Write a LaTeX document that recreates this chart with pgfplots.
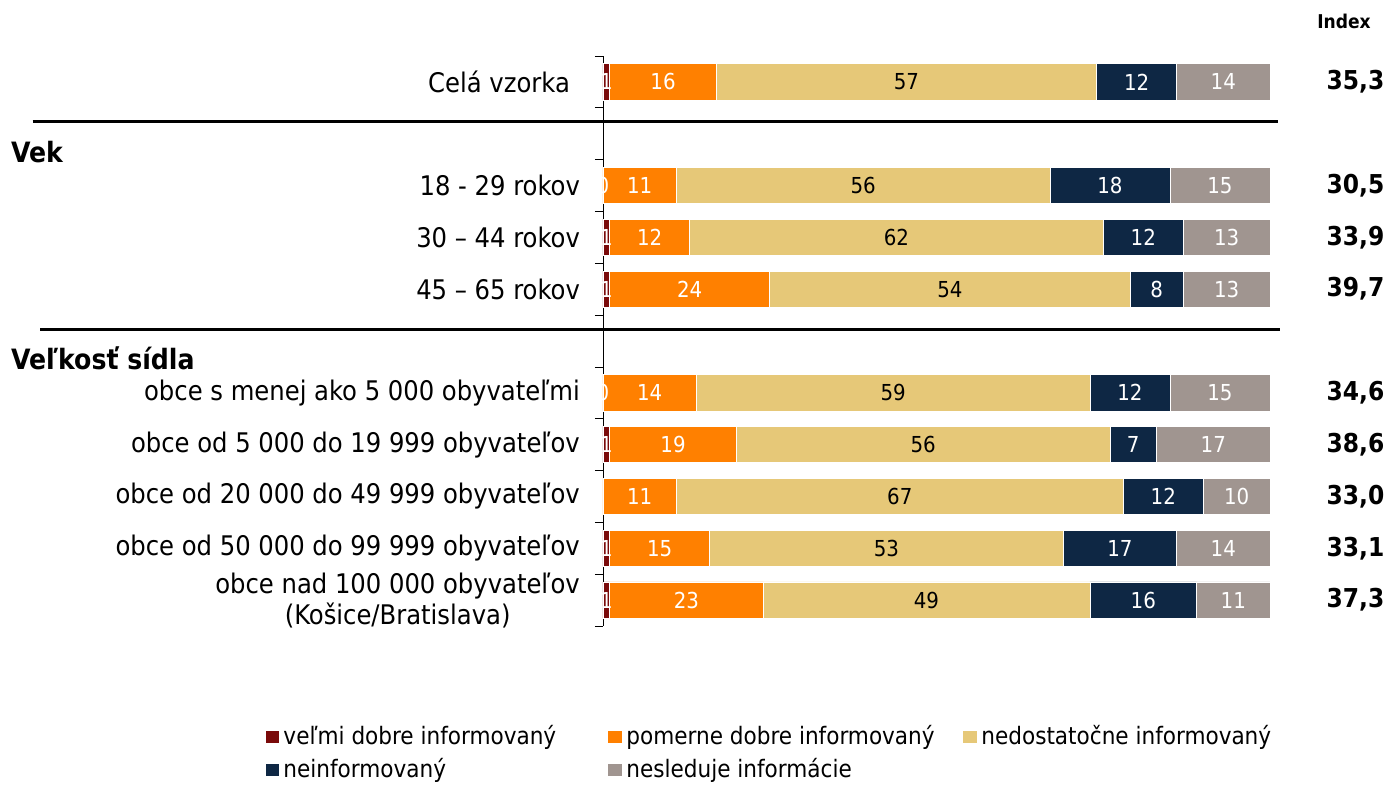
\documentclass[border=0pt]{standalone}
\usepackage{fontspec}
\setmainfont{DejaVuSansCondensed}[Extension=.ttf, BoldFont=DejaVuSansCondensed-Bold]
\usepackage{pgfplots}
\usepackage{pgfplotstable}
\pgfplotsset{compat=1.18}
\definecolor{cdr}{HTML}{7A0A0A}
\definecolor{cor}{HTML}{FF8000}
\definecolor{cye}{HTML}{E6C878}
\definecolor{cnv}{HTML}{0E2744}
\definecolor{cgr}{HTML}{A09590}

\pgfplotstableread{
y a b c d e
10 1 16 57 12 14
8 0 11 56 18 15
7 1 12 62 12 13
6 1 24 54 8 13
4 0 14 59 12 15
3 1 19 56 7 17
2 0 11 67 12 10
1 1 15 53 17 14
0 1 23 49 16 11
}\data

\begin{document}
\begin{tikzpicture}
\path[use as bounding box] (0,0) rectangle (694.5pt,393.5pt);
\begin{axis}[
  at={(301.5pt,80.5pt)}, anchor=south west,
  scale only axis, width=333.5pt, height=285pt,
  xmin=0, xmax=100, ymin=-0.5, ymax=10.5, clip=false,
  xbar stacked, bar width=0.7,
  axis x line=none, axis y line*=left,
  ytick={0,1,2,3,4,6,7,8,10},
  yticklabels={{obce nad 100 000 obyvateľov\\(Košice/Bratislava)},
    obce od 50 000 do 99 999 obyvateľov, obce od 20 000 do 49 999 obyvateľov,
    obce od 5 000 do 19 999 obyvateľov, obce s menej ako 5 000 obyvateľmi,
    45 – 65 rokov, 30 – 44 rokov, 18 - 29 rokov, Celá vzorka\hspace*{5pt}},
  minor ytick={-0.5,0.5,1.5,2.5,3.5,4.5,5.5,6.5,7.5,8.5,9.5,10.5},
  major tick length=0pt, minor tick length=4pt, tick align=outside,
  tick style={black, thin},
  yticklabel style={font=\fontsize{13.5}{15.5}\selectfont, align=center, text=black, xshift=-8pt},
  legend columns=3,
  legend style={at={(-0.517,-0.160)}, anchor=north west, draw=none, fill=none,
    font=\fontsize{12}{14}\selectfont, row sep=1.5pt},
]
\addplot[fill=cdr, draw=white, line width=0.3pt, area legend, legend image post style={xscale=0.42, yscale=1.1, draw=none}] table[x=a, y=y] {\data};
\addlegendentry{\makebox[160pt][l]{veľmi dobre informovaný}}
\addplot[fill=cor, draw=white, line width=0.3pt, area legend, legend image post style={xscale=0.42, yscale=1.1, draw=none}] table[x=b, y=y] {\data};
\addlegendentry{\makebox[166pt][l]{pomerne dobre informovaný}}
\addplot[fill=cye, draw=white, line width=0.3pt, area legend, legend image post style={xscale=0.42, yscale=1.1, draw=none}] table[x=c, y=y] {\data};
\addlegendentry{\makebox[140pt][l]{nedostatočne informovaný}}
\addplot[fill=cnv, draw=white, line width=0.3pt, area legend, legend image post style={xscale=0.42, yscale=1.1, draw=none}] table[x=d, y=y] {\data};
\addlegendentry{\makebox[160pt][l]{neinformovaný}}
\addplot[fill=cgr, draw=white, line width=0.3pt, area legend, legend image post style={xscale=0.42, yscale=1.1, draw=none}] table[x=e, y=y] {\data};
\addlegendentry{\makebox[166pt][l]{nesleduje informácie}}

\draw[line width=1.5pt] (axis cs:-85.5,9.23) -- (axis cs:101.2,9.23);
\draw[line width=1.5pt] (axis cs:-84.4,5.23) -- (axis cs:101.5,5.23);
\node[anchor=west, font=\bfseries\fontsize{14}{16}\selectfont] at (axis cs:-89.8,8.65) {Vek};
\node[anchor=west, font=\bfseries\fontsize{14}{16}\selectfont] at (axis cs:-89.8,4.67) {Veľkosť sídla};
\node[font=\bfseries\fontsize{9.5}{11}\selectfont] at (axis cs:111.1,11.16) {Index};
\node[anchor=east, font=\bfseries\fontsize{13}{15}\selectfont] at (axis cs:118.2,10) {35,3};
\node[anchor=east, font=\bfseries\fontsize{13}{15}\selectfont] at (axis cs:118.2,8) {30,5};
\node[anchor=east, font=\bfseries\fontsize{13}{15}\selectfont] at (axis cs:118.2,7) {33,9};
\node[anchor=east, font=\bfseries\fontsize{13}{15}\selectfont] at (axis cs:118.2,6) {39,7};
\node[anchor=east, font=\bfseries\fontsize{13}{15}\selectfont] at (axis cs:118.2,4) {34,6};
\node[anchor=east, font=\bfseries\fontsize{13}{15}\selectfont] at (axis cs:118.2,3) {38,6};
\node[anchor=east, font=\bfseries\fontsize{13}{15}\selectfont] at (axis cs:118.2,2) {33,0};
\node[anchor=east, font=\bfseries\fontsize{13}{15}\selectfont] at (axis cs:118.2,1) {33,1};
\node[anchor=east, font=\bfseries\fontsize{13}{15}\selectfont] at (axis cs:118.2,0) {37,3};
\end{axis}
\begin{axis}[at={(301.5pt,80.5pt)}, anchor=south west,
  scale only axis, width=333.5pt, height=285pt,
  xmin=0, xmax=100, ymin=-0.5, ymax=10.5, clip=false, hide axis,
  nodes near coords={\pgfplotspointmeta}, point meta=explicit symbolic,
  every node near coord/.append style={anchor=center, font=\fontsize{11}{13}\selectfont}]
\addplot[only marks, mark=none, nodes near coords style={text=white}, skip coords between index={6}{7}] table[x expr=\thisrow{a}/2, y=y, meta=a] {\data};
\addplot[only marks, mark=none, nodes near coords style={text=white}] table[x expr=\thisrow{a}+\thisrow{b}/2, y=y, meta=b] {\data};
\addplot[only marks, mark=none, nodes near coords style={text=black}] table[x expr=\thisrow{a}+\thisrow{b}+\thisrow{c}/2, y=y, meta=c] {\data};
\addplot[only marks, mark=none, nodes near coords style={text=white}] table[x expr=\thisrow{a}+\thisrow{b}+\thisrow{c}+\thisrow{d}/2, y=y, meta=d] {\data};
\addplot[only marks, mark=none, nodes near coords style={text=white}] table[x expr=\thisrow{a}+\thisrow{b}+\thisrow{c}+\thisrow{d}+\thisrow{e}/2, y=y, meta=e] {\data};
\end{axis}
\end{tikzpicture}
\end{document}
